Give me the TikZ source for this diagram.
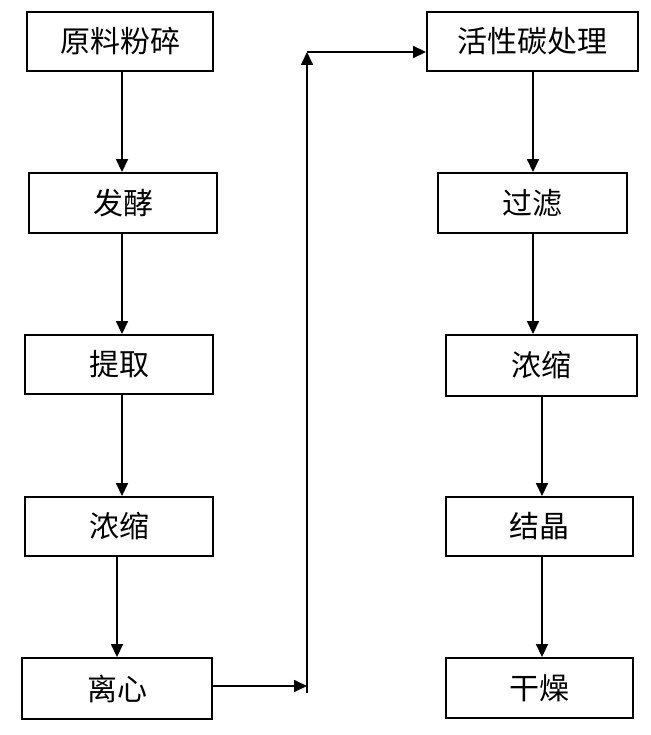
\documentclass[tikz,border=0pt]{standalone}
\usepackage{fontspec}
\newfontfamily\cjk{Noto Sans CJK SC}
\usetikzlibrary{arrows.meta}
\begin{document}
\begin{tikzpicture}[x=1pt,y=-1pt,
  box/.style={draw,line width=1.9pt,rectangle,inner sep=0pt,font=\cjk\fontsize{30}{32}\selectfont},
  arr/.style={line width=1.7pt,-{Triangle[length=13pt,width=12pt]}}]
\useasboundingbox (0,0) rectangle (650,735);
\node[box,minimum width=186pt,minimum height=59pt] (L1) at (120,41.5) {原料粉碎};
\node[box,minimum width=188pt,minimum height=60pt] (L2) at (123,203) {发酵};
\node[box,minimum width=188pt,minimum height=59pt] (L3) at (119,364.5) {提取};
\node[box,minimum width=188pt,minimum height=59pt] (L4) at (119,526.5) {浓缩};
\node[box,minimum width=190pt,minimum height=61pt] (L5) at (117,688.5) {离心};
\node[box,minimum width=211pt,minimum height=59pt] (R1) at (532.5,41.5) {活性碳处理};
\node[box,minimum width=189pt,minimum height=60pt] (R2) at (532.5,203) {过滤};
\node[box,minimum width=191pt,minimum height=61pt] (R3) at (541.5,365.5) {浓缩};
\node[box,minimum width=187pt,minimum height=59pt] (R4) at (539.5,526.5) {结晶};
\node[box,minimum width=187pt,minimum height=60pt] (R5) at (539.5,688) {干燥};
\coordinate (xa) at (122,0);
\coordinate (xb) at (117,0);
\coordinate (xc) at (533,0);
\coordinate (xd) at (542,0);
\coordinate (c1) at (307,686);
\coordinate (c2) at (307,52);
\draw[arr] (L1.south -| xa) -- (L2.north -| xa);
\draw[arr] (L2.south -| xa) -- (L3.north -| xa);
\draw[arr] (L3.south -| xa) -- (L4.north -| xa);
\draw[arr] (L4.south -| xb) -- (L5.north -| xb);
\draw[arr] (R1.south -| xc) -- (R2.north -| xc);
\draw[arr] (R2.south -| xc) -- (R3.north -| xc);
\draw[arr] (R3.south -| xd) -- (R4.north -| xd);
\draw[arr] (R4.south -| xd) -- (R5.north -| xd);
\draw[arr] (L5.east |- c1) -- (c1);
\draw[arr] ([yshift=-7pt]c1) -- (c2);
\draw[arr] (c2) -- (R1.west |- c2);
\end{tikzpicture}
\end{document}
